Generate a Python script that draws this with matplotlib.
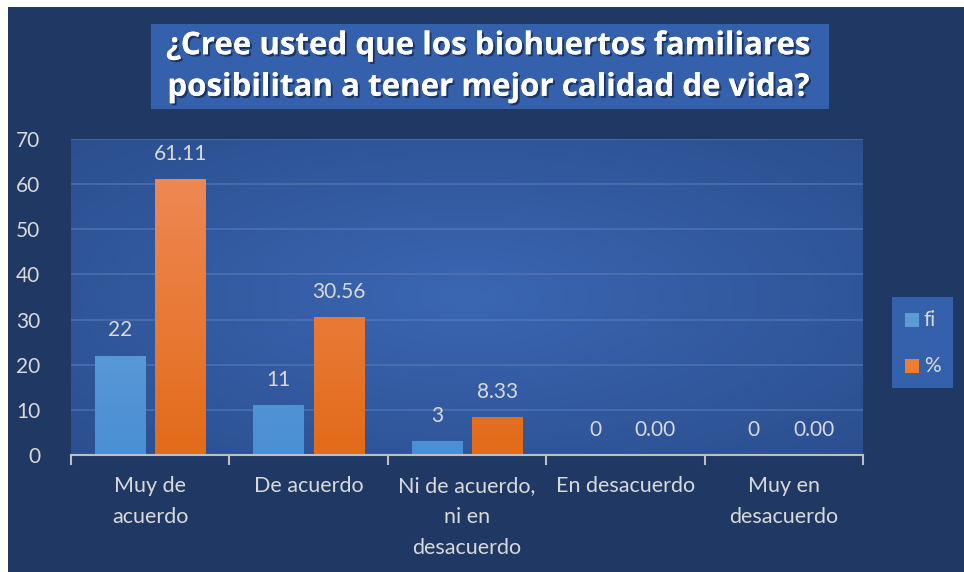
import numpy as np
import matplotlib.pyplot as plt
from matplotlib.patches import Rectangle
import matplotlib.patheffects as pe

categorias = ['Muy de\nacuerdo', 'De acuerdo', 'Ni de acuerdo,\nni en\ndesacuerdo',
              'En desacuerdo', 'Muy en\ndesacuerdo']
fi = [22, 11, 3, 0, 0]
pct = [61.11, 30.56, 8.33, 0.00, 0.00]
titulo = '¿Cree usted que los biohuertos familiares\nposibilitan a tener mejor calidad de vida?'

plt.rcParams['font.family'] = ['Lato', 'DejaVu Sans']
navy = '#203864'
txt = '#D9D9D9'

fig = plt.figure(figsize=(9.64, 5.72), dpi=100)
fig.patch.set_facecolor('white')
fig.add_artist(Rectangle((8 / 964, 0), 1, 1 - 7 / 572, transform=fig.transFigure,
                         facecolor=navy, edgecolor='none', zorder=0))

ax = fig.add_axes([71 / 964, 117 / 572, 792 / 964, 316 / 572])
ax.set_facecolor('#2F5597')
ax.set_xlim(-0.5, 4.5)
ax.set_ylim(0, 70)

# radial gradient background of the plot area
yy, xx = np.mgrid[-1:1:200j, -1:1:400j]
r = np.sqrt(xx ** 2 + yy ** 2)
g = np.clip(1 - r / 1.4, 0, 1)
c0 = np.array([0.17, 0.31, 0.56])
c1 = np.array([0.23, 0.40, 0.70])
img = c0 + (c1 - c0) * g[..., None]
ax.imshow(img, extent=(-0.5, 4.5, 0, 70), aspect='auto', zorder=0, origin='lower')

ax.set_yticks(range(0, 71, 10))
ax.grid(axis='y', color='#5A7DBA', lw=1.3, alpha=0.6, zorder=1)
ax.set_axisbelow(True)
for s in ['top', 'right', 'left']:
    ax.spines[s].set_visible(False)
ax.spines['bottom'].set_color('#BFBFBF')
ax.spines['bottom'].set_linewidth(1.5)
ax.spines['bottom'].set_zorder(5)

ax.set_xticks(np.arange(-0.5, 5, 1), minor=True)
ax.set_xticks(range(5))
ax.set_xticklabels(categorias, fontsize=15.5, color=txt, linespacing=1.7, va='top')
ax.tick_params(axis='x', which='major', length=0, pad=15)
ax.tick_params(axis='x', which='minor', length=7, width=1.5, color='#BFBFBF')
ax.tick_params(axis='y', length=0, labelsize=15, labelcolor=txt, pad=22)

w = 0.316
off = 0.19
x = np.arange(len(categorias))


def grad_bars(xs, vals, top, bot):
    bars = ax.bar(xs, vals, width=w, color=bot, zorder=3)
    grad = np.linspace(0, 1, 100)[:, None]
    cimg = np.array(bot)[None, None, :] + (np.array(top) - np.array(bot))[None, None, :] * grad[..., None]
    for b in bars:
        if b.get_height() <= 0:
            continue
        im = ax.imshow(cimg, extent=(b.get_x(), b.get_x() + b.get_width(), 0, 70),
                       aspect='auto', origin='lower', zorder=3.5)
        im.set_clip_path(b)
    return bars


b1 = grad_bars(x - off, fi, (0.47, 0.67, 0.87), (0.29, 0.56, 0.83))
b2 = grad_bars(x + off, pct, (0.94, 0.55, 0.36), (0.89, 0.42, 0.10))
ax.set_xlim(-0.5, 4.5)
ax.set_ylim(0, 70)

for xi, v in zip(x - off, fi):
    ax.annotate(f'{v}', (xi, v), xytext=(0, 11), textcoords='offset points',
                ha='center', va='bottom', fontsize=15, color=txt, zorder=6)
for xi, v in zip(x + off, pct):
    ax.annotate(f'{v:.2f}', (xi, v), xytext=(0, 11), textcoords='offset points',
                ha='center', va='bottom', fontsize=15, color=txt, zorder=6)

# title box
fig.add_artist(Rectangle((151 / 964, 1 - 109 / 572), 678 / 964, 85 / 572,
                         transform=fig.transFigure, facecolor='#3560AC',
                         edgecolor='none', zorder=1))
fig.text(489 / 964, 1 - 67 / 572, titulo, ha='center', va='center', fontsize=22.5,
         fontweight='bold', color='white', linespacing=1.5, zorder=2,
         family=['Open Sans', 'DejaVu Sans'],
         path_effects=[pe.withSimplePatchShadow(offset=(1.5, -1.5), shadow_rgbFace='#10203F', alpha=0.7),
                       pe.Normal()])

# legend box
fig.add_artist(Rectangle((892 / 964, 1 - 388 / 572), 61 / 964, 91 / 572,
                         transform=fig.transFigure, facecolor='#3560AC',
                         edgecolor='none', zorder=1))
for yv, lab, col in [(320, 'fi', '#5B9BD5'), (366, '%', '#ED7D31')]:
    fig.add_artist(Rectangle((905 / 964, 1 - (yv + 7) / 572), 14 / 964, 14 / 572,
                             transform=fig.transFigure, facecolor=col,
                             edgecolor='none', zorder=2))
    fig.text(924 / 964, 1 - yv / 572, lab, ha='left', va='center', fontsize=15,
             color=txt, zorder=2)

fig.savefig('out.png', dpi=100, facecolor=fig.get_facecolor())
